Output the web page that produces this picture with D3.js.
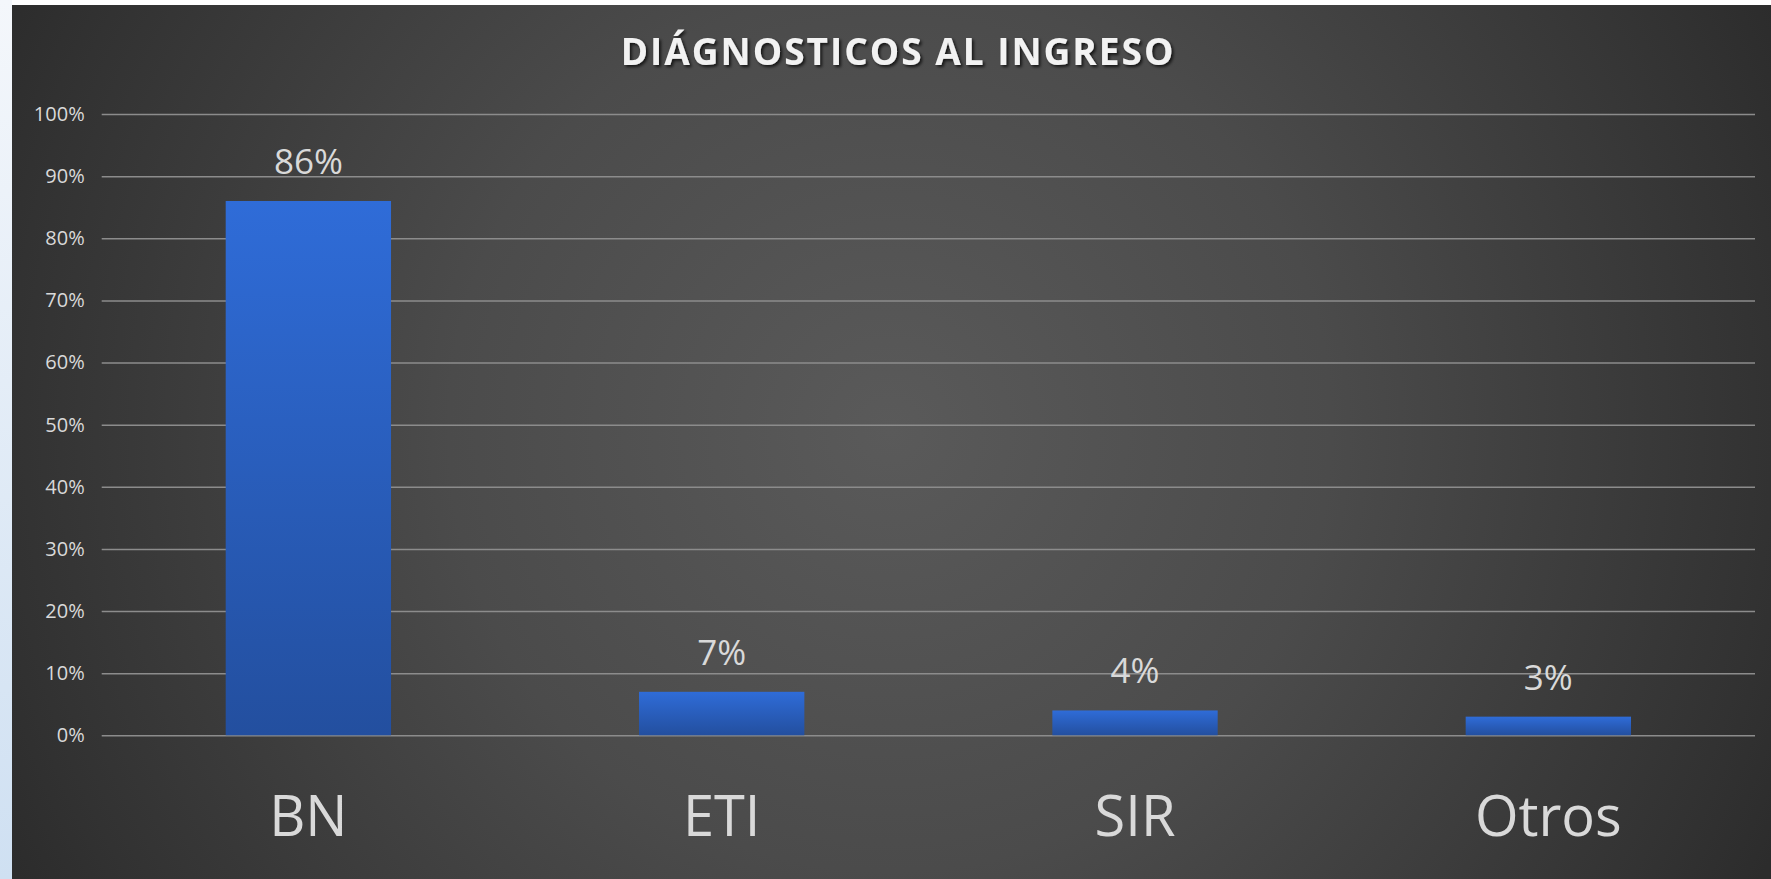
<!DOCTYPE html>
<html>
<head>
<meta charset="utf-8">
<script src="https://cdn.jsdelivr.net/npm/d3@7"></script>
<style>
  html, body { margin: 0; padding: 0; background: #ffffff; overflow: hidden; }
  svg { display: block; }
  svg text { font-family: "Open Sans", "DejaVu Sans", sans-serif; }
</style>
</head>
<body>
<script>
// chart data
var categories = ["BN", "ETI", "SIR", "Otros"];
var values = [86, 7, 4, 3];
var yTicks = [0, 10, 20, 30, 40, 50, 60, 70, 80, 90, 100];
var title = "DIÁGNOSTICOS AL INGRESO";

var width = 1771;
var height = 879;

var svg = d3.select('body').append('svg')
  .attr('width', width)
  .attr('height', height);

var defs = svg.append('defs');

// light strip on the left side
var strip = defs.append('linearGradient')
  .attr('id', 'stripGrad')
  .attr('x1', 0).attr('y1', 0).attr('x2', 0).attr('y2', 1);
strip.append('stop').attr('offset', '0%').attr('stop-color', '#f4f7fb');
strip.append('stop').attr('offset', '100%').attr('stop-color', '#cfe0f2');

// dark radial background
var bg = defs.append('radialGradient')
  .attr('id', 'bgGrad')
  .attr('gradientUnits', 'userSpaceOnUse')
  .attr('cx', 890).attr('cy', 430).attr('r', 980);
bg.append('stop').attr('offset', '0%').attr('stop-color', '#5a5a5a');
bg.append('stop').attr('offset', '45%').attr('stop-color', '#4b4b4b');
bg.append('stop').attr('offset', '90%').attr('stop-color', '#323232');
bg.append('stop').attr('offset', '100%').attr('stop-color', '#2c2c2c');

// bar gradient
var barGrad = defs.append('linearGradient')
  .attr('id', 'barGrad')
  .attr('x1', 0).attr('y1', 0).attr('x2', 0).attr('y2', 1);
barGrad.append('stop').attr('offset', '0%').attr('stop-color', '#2f6cd8');
barGrad.append('stop').attr('offset', '100%').attr('stop-color', '#234f9f');

var shadow = defs.append('filter')
  .attr('id', 'titleShadow')
  .attr('x', '-10%').attr('y', '-30%').attr('width', '120%').attr('height', '160%');
shadow.append('feDropShadow')
  .attr('dx', 2).attr('dy', 2)
  .attr('stdDeviation', 1.5)
  .attr('flood-color', '#000000')
  .attr('flood-opacity', 0.7);

svg.append('rect')
  .attr('x', 0).attr('y', 0)
  .attr('width', 12).attr('height', height)
  .attr('fill', 'url(#stripGrad)');

svg.append('rect')
  .attr('x', 12).attr('y', 5)
  .attr('width', width - 12).attr('height', height - 5)
  .attr('fill', 'url(#bgGrad)');

// scales
var plotLeft = 101.7, plotRight = 1755;
var plotTop = 114, plotBottom = 735.3;

var x = d3.scaleBand()
  .domain(categories)
  .range([plotLeft, plotRight])
  .paddingInner(0.6)
  .paddingOuter(0.3);

var y = d3.scaleLinear()
  .domain([0, 100])
  .range([plotBottom, plotTop]);

// y axis with gridlines
var yAxis = svg.append('g')
  .attr('transform', 'translate(' + plotLeft + ',0)')
  .call(d3.axisLeft(y)
    .tickValues(yTicks)
    .tickFormat(function(d) { return d + '%'; })
    .tickSize(-(plotRight - plotLeft))
    .tickPadding(17));

yAxis.attr('font-family', null);
yAxis.select('.domain').remove();
yAxis.selectAll('.tick line')
  .attr('stroke', '#8c8c8c')
  .attr('stroke-width', 1.5);
yAxis.selectAll('.tick text')
  .attr('fill', '#d9d9d9')
  .style('font-size', '20px');

// bars
svg.selectAll('.bar')
  .data(values)
  .enter().append('rect')
  .attr('class', 'bar')
  .attr('x', function(d, i) { return x(categories[i]); })
  .attr('y', function(d) { return y(d); })
  .attr('width', x.bandwidth())
  .attr('height', function(d) { return y(0) - y(d); })
  .attr('fill', 'url(#barGrad)');

// value labels
svg.selectAll('.value')
  .data(values)
  .enter().append('text')
  .attr('class', 'value')
  .attr('x', function(d, i) { return x(categories[i]) + x.bandwidth() / 2; })
  .attr('y', function(d) { return y(d) - 27; })
  .attr('text-anchor', 'middle')
  .attr('fill', '#d9d9d9')
  .style('font-size', '35px')
  .text(function(d) { return d + '%'; });

// category axis
var xAxis = svg.append('g')
  .attr('transform', 'translate(0,' + plotBottom + ')')
  .call(d3.axisBottom(x).tickSize(0));

xAxis.attr('font-family', null);
xAxis.select('.domain').remove();
xAxis.selectAll('.tick text')
  .attr('y', 101)
  .attr('dy', 0)
  .attr('fill', '#d9d9d9')
  .style('font-size', '56px');

// title
svg.append('text')
  .attr('x', 898)
  .attr('y', 65)
  .attr('text-anchor', 'middle')
  .attr('fill', '#f2f2f2')
  .attr('filter', 'url(#titleShadow)')
  .style('font-size', '37px')
  .style('font-weight', 'bold')
  .style('letter-spacing', '2px')
  .text(title);
</script>
</body>
</html>
